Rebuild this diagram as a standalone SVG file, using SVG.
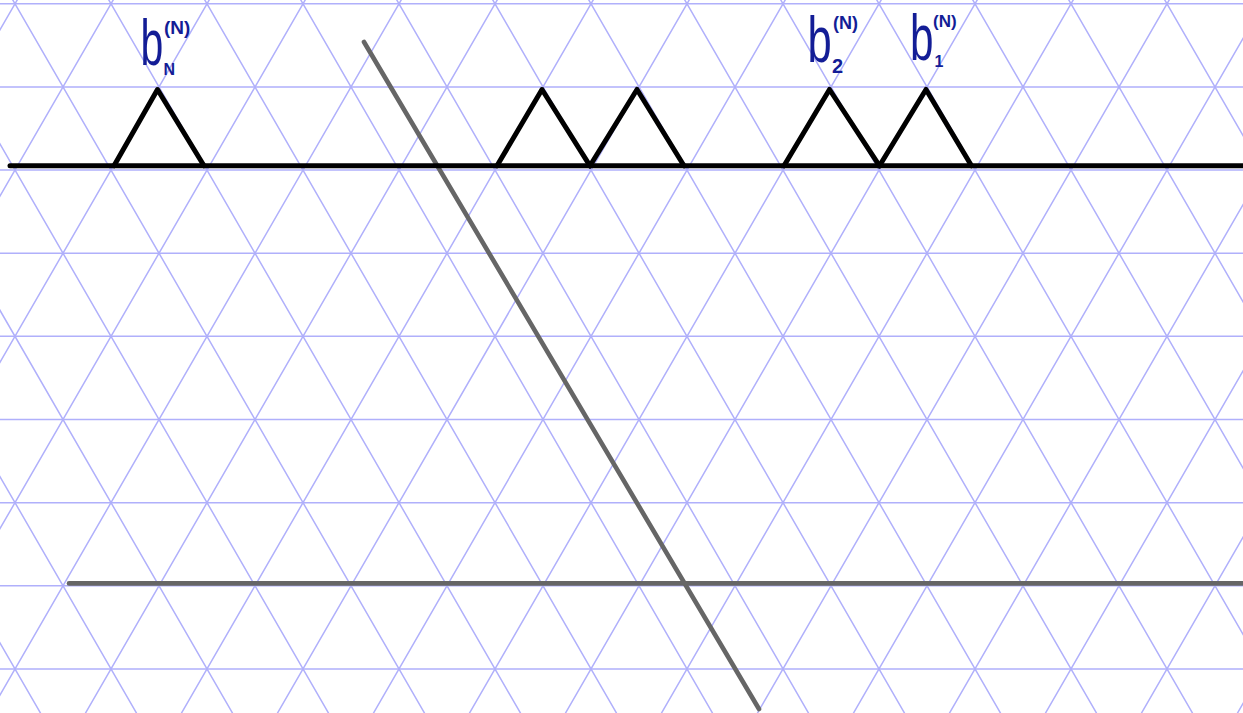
<svg xmlns="http://www.w3.org/2000/svg" width="1243" height="713" viewBox="0 0 1243 713">
<style>
.grid{stroke:#b0b0fb;stroke-width:1.5;fill:none}
.blk{stroke:#000;stroke-width:5;fill:none;stroke-linecap:round;stroke-linejoin:round}
.gry{stroke:#666;stroke-width:4.6;fill:none;stroke-linecap:round}
.lb{font-family:"Liberation Sans",Arial,sans-serif;fill:#131d96}
.big{font-size:64px}
.sm{font-weight:bold}
</style>
<rect width="1243" height="713" fill="#fff"/>
<g id="grid" class="grid">
<path d="M0,3.8H1243M0,86.94H1243M0,170.08H1243M0,253.22H1243M0,336.36H1243M0,419.5H1243M0,502.64H1243M0,585.78H1243M0,668.92H1243"/>
<path d="M-382.74,-20L52,733M-286.74,-20L148,733M-190.74,-20L244,733M-94.74,-20L340,733M1.26,-20L436,733M97.26,-20L532,733M193.26,-20L628,733M289.26,-20L724,733M385.26,-20L820,733M481.26,-20L916,733M577.26,-20L1012,733M673.26,-20L1108,733M769.26,-20L1204,733M865.26,-20L1300,733M961.26,-20L1396,733M1057.26,-20L1492,733M1153.26,-20L1588,733"/>
<path d="M28.74,-20L-406,733M124.74,-20L-310,733M220.74,-20L-214,733M316.74,-20L-118,733M412.74,-20L-22,733M508.74,-20L74,733M604.74,-20L170,733M700.74,-20L266,733M796.74,-20L362,733M892.74,-20L458,733M988.74,-20L554,733M1084.74,-20L650,733M1180.74,-20L746,733M1276.74,-20L842,733M1372.74,-20L938,733M1468.74,-20L1034,733M1564.74,-20L1130,733M1660.74,-20L1226,733"/>
</g>
<g id="lines">
<line class="gry" x1="364" y1="42" x2="759" y2="709"/>
<line class="gry" x1="69" y1="583.4" x2="1250" y2="583.4"/>
</g>
<g id="baseline">
<line class="blk" x1="10" y1="165.8" x2="1250" y2="165.8"/>
</g>
<g id="bumps" class="blk">
<polyline points="114,165.8 157.5,89.5 204,165.8"/>
<polyline points="497,165.8 542,89.5 590,165.8"/>
<polyline points="590,165.8 637,89.5 684,165.8"/>
<polyline points="784,165.8 829.5,89.5 879.5,165.8"/>
<polyline points="879.5,165.8 926,89.5 971.5,165.8"/>
</g>
<g id="label-bN" class="lb">
<text class="big" transform="translate(140.5,65) scale(0.64,1)">b</text>
<text class="sm" x="163.5" y="75" font-size="16">N</text>
<text class="sm" x="164" y="34" font-size="19">(N)</text>
</g>
<g id="label-b2" class="lb">
<text class="big" transform="translate(807.5,62) scale(0.68,1)">b</text>
<text class="sm" x="832" y="73" font-size="20">2</text>
<text class="sm" x="833" y="28.5" font-size="18">(N)</text>
</g>
<g id="label-b1" class="lb">
<text class="big" transform="translate(910,60) scale(0.66,1)">b</text>
<text class="sm" x="934.5" y="67" font-size="16">1</text>
<text class="sm" x="933" y="27" font-size="17">(N)</text>
</g>
</svg>
